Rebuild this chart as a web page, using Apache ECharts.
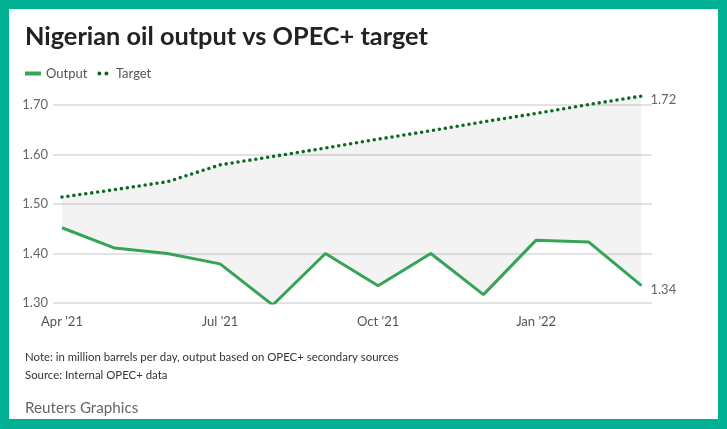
<!DOCTYPE html>
<html>
<head>
<meta charset="utf-8">
<script src="https://cdn.jsdelivr.net/npm/echarts@6/dist/echarts.min.js"></script>
<style>
  html, body { margin: 0; padding: 0; background: #00b092; }
  #chart { position: absolute; left: 9px; top: 9px; width: 709px; height: 410px; background: #fff; }
</style>
</head>
<body>
<div id="chart"></div>
<script>
// monthly, Apr '21 .. Mar '22
const months = ["Apr '21", "May '21", "Jun '21", "Jul '21", "Aug '21", "Sep '21",
                "Oct '21", "Nov '21", "Dec '21", "Jan '22", "Feb '22", "Mar '22"];
const output = [1.452, 1.411, 1.400, 1.379, 1.296, 1.400, 1.335, 1.400, 1.317, 1.427, 1.423, 1.335];
const target = [1.514, 1.529, 1.545, 1.579, 1.596, 1.613, 1.631, 1.648, 1.666, 1.683, 1.701, 1.718];

const FONT = 'Lato, "Noto Sans", sans-serif';
const GREEN = '#36a456';
const DARK = '#0a6a22';

// grey band between output and target
const gap = target.map((t, i) => +(t - output[i]).toFixed(3));

const yRange = { min: 1.3, max: 1.7, interval: 0.1 };
const fmt2 = v => (v + 1e-9).toFixed(2);

const chart = echarts.init(document.getElementById('chart'));
chart.setOption({
  animation: false,
  textStyle: { fontFamily: FONT },
  title: {
    text: 'Nigerian oil output vs OPEC+ target',
    left: 16, top: 15, padding: 0,
    textStyle: { fontSize: 25.3, fontWeight: 'bold', color: '#222', fontFamily: FONT }
  },
  legend: {
    left: 16, top: 58, padding: 0,
    itemWidth: 16, itemHeight: 4, itemGap: 10,
    textStyle: { fontSize: 13, color: '#555' },
    data: [
      { name: 'Output', icon: 'rect' },
      { name: 'Target', icon: 'path://M2,0A2,2,0,1,1,2,4A2,2,0,1,1,2,0ZM9,0A2,2,0,1,1,9,4A2,2,0,1,1,9,0Z' }
    ]
  },
  // grid 0 carries the gridlines (a little wider than the data), grid 1 the lines
  grid: [
    { left: 44, right: 66, top: 96, bottom: 116 },
    { left: 53, right: 76.5, top: 96, bottom: 116 }
  ],
  xAxis: [
    { type: 'value', gridIndex: 0, show: false, min: 0, max: 1 },
    {
      type: 'category', gridIndex: 1, data: months, boundaryGap: false,
      axisLine: { show: false },
      axisTick: { show: false },
      splitLine: { show: false },
      axisLabel: { interval: 2, margin: 12, fontSize: 13, color: '#555' }
    }
  ],
  yAxis: [
    {
      type: 'value', gridIndex: 0, ...yRange,
      axisLine: { show: false },
      axisTick: { show: false },
      axisLabel: { margin: 5, fontSize: 13, color: '#666', formatter: v => v.toFixed(2) },
      splitLine: { lineStyle: { color: '#dadada', width: 1.5 } }
    },
    {
      type: 'value', gridIndex: 1, ...yRange,
      axisLine: { show: false }, axisTick: { show: false },
      axisLabel: { show: false }, splitLine: { show: false }
    }
  ],
  series: [
    {
      name: 'Output', type: 'line', stack: 'gap', xAxisIndex: 1, yAxisIndex: 1,
      data: output, symbol: 'none', z: 4,
      lineStyle: { color: GREEN, width: 3 },
      itemStyle: { color: GREEN },
      endLabel: { show: true, distance: 9, offset: [0, 4], fontSize: 13, color: '#666', formatter: p => fmt2(p.value) }
    },
    {
      name: 'fill', type: 'line', stack: 'gap', xAxisIndex: 1, yAxisIndex: 1,
      data: gap, symbol: 'none', silent: true, clip: false, z: 1,
      lineStyle: { opacity: 0 },
      areaStyle: { color: 'rgba(0,0,0,0.065)' }
    },
    {
      name: 'Target', type: 'line', xAxisIndex: 1, yAxisIndex: 1,
      data: target, symbol: 'none', clip: false, z: 5,
      lineStyle: { color: DARK, width: 3.6, type: [0, 6], cap: 'round' },
      itemStyle: { color: DARK },
      endLabel: { show: true, distance: 9, offset: [0, 4], fontSize: 13, color: '#666', formatter: p => fmt2(p.value) }
    }
  ],
  graphic: [
    { type: 'text', left: 16, top: 343,
      style: { text: 'Note: in million barrels per day, output based on OPEC+ secondary sources', fontSize: 11.4, fill: '#333', fontFamily: FONT } },
    { type: 'text', left: 16, top: 361,
      style: { text: 'Source: Internal OPEC+ data', fontSize: 11.4, fill: '#333', fontFamily: FONT } },
    { type: 'text', left: 16, top: 392,
      style: { text: 'Reuters Graphics', fontSize: 15.2, fill: '#666', fontFamily: FONT } }
  ]
});
</script>
</body>
</html>
